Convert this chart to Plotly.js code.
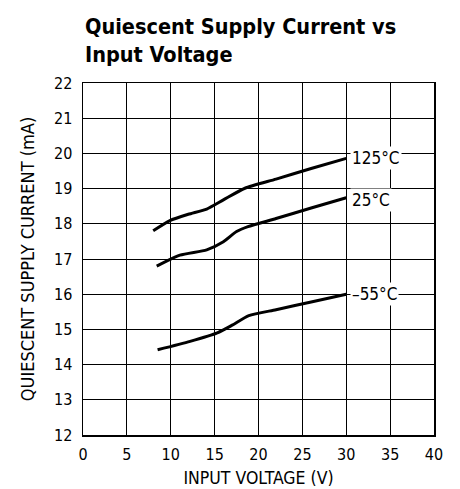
<!DOCTYPE html>
<html>
<head>
<meta charset="utf-8">
<script src="https://cdn.plot.ly/plotly-3.0.1.min.js"></script>
<style>
  html, body { margin: 0; padding: 0; background: #fff; }
  #chart { width: 460px; height: 489px; }
</style>
</head>
<body>
<div id="chart"></div>
<script>
// Data
const v125 = [8.0, 9.9, 12.0, 14.1, 16.0, 18.45, 22.0, 26.0, 30.0];
const i125 = [17.80, 18.09, 18.27, 18.42, 18.68, 19.01, 19.27, 19.57, 19.86];

const v25 = [8.4, 11.05, 14.1, 16.0, 17.5, 18.8, 22.0, 26.0, 30.0];
const i25 = [16.80, 17.11, 17.26, 17.49, 17.78, 17.92, 18.15, 18.45, 18.74];

const vm55 = [8.5, 12.2, 15.3, 17.0, 18.9, 22.0, 26.0, 30.0];
const im55 = [14.42, 14.66, 14.90, 15.12, 15.39, 15.56, 15.78, 16.00];

const seriesLabels = ["125°C", "25°C", "\u201355°C"];
const xTicks = [0, 5, 10, 15, 20, 25, 30, 35, 40];
const yTicks = [12, 13, 14, 15, 16, 17, 18, 19, 20, 21, 22];

const FONT = "DejaVu Sans Condensed, Liberation Sans Narrow, Arial Narrow, sans-serif";

function curve(x, y) {
  return {
    x: x, y: y, type: "scatter", mode: "lines",
    line: { color: "#000", width: 3, shape: "spline", smoothing: 0.6 },
    hoverinfo: "skip", showlegend: false
  };
}

const data = [curve(v125, i125), curve(v25, i25), curve(vm55, im55)];

const ends = [
  [v125[v125.length - 1], i125[i125.length - 1], 0],
  [v25[v25.length - 1], i25[i25.length - 1], -2],
  [vm55[vm55.length - 1], im55[im55.length - 1], 0]
];

const annotations = ends.map((e, k) => ({
  x: e[0], y: e[1], xref: "x", yref: "y",
  text: seriesLabels[k], showarrow: false,
  xanchor: "left", yanchor: "middle", xshift: 4, yshift: e[2],
  bgcolor: "#fff", borderpad: 1,
  font: { family: FONT, size: 17, color: "#000" }
}));

annotations.push({
  xref: "paper", yref: "paper", x: 0, y: 1, xanchor: "left", yanchor: "bottom",
  xshift: 0, yshift: 42, showarrow: false,
  text: "<b>Quiescent Supply Current vs</b>",
  font: { family: FONT, size: 21.5, color: "#000" }
});
annotations.push({
  xref: "paper", yref: "paper", x: 0, y: 1, xanchor: "left", yanchor: "bottom",
  xshift: 0, yshift: 14, showarrow: false,
  text: "<b>Input Voltage</b>",
  font: { family: FONT, size: 21.5, color: "#000" }
});

const axisCommon = {
  showgrid: true, gridcolor: "#000", gridwidth: 1,
  showline: true, linecolor: "#000", linewidth: 1.5, mirror: true,
  zeroline: false, ticks: "", fixedrange: true,
  tickfont: { family: FONT, size: 16, color: "#000" }
};

const layout = {
  width: 460, height: 489,
  margin: { l: 83, r: 26, t: 83, b: 54 },
  paper_bgcolor: "#fff", plot_bgcolor: "#fff",
  font: { family: FONT, color: "#000" },
  showlegend: false,
  xaxis: Object.assign({}, axisCommon, {
    range: [0, 40], tickmode: "array", tickvals: xTicks, ticktext: xTicks.map(String),
    ticklabelstandoff: 4,
    title: { text: "INPUT VOLTAGE (V)", font: { family: FONT, size: 17.5, color: "#000" }, standoff: 9 }
  }),
  yaxis: Object.assign({}, axisCommon, {
    range: [12, 22], tickmode: "array", tickvals: yTicks, ticktext: yTicks.map(String),
    ticklabelstandoff: 6,
    title: { text: "QUIESCENT SUPPLY CURRENT (mA)", font: { family: FONT, size: 18, color: "#000" }, standoff: 14 }
  }),
  annotations: annotations
};

Plotly.newPlot("chart", data, layout, { displayModeBar: false, staticPlot: true });
</script>
</body>
</html>
